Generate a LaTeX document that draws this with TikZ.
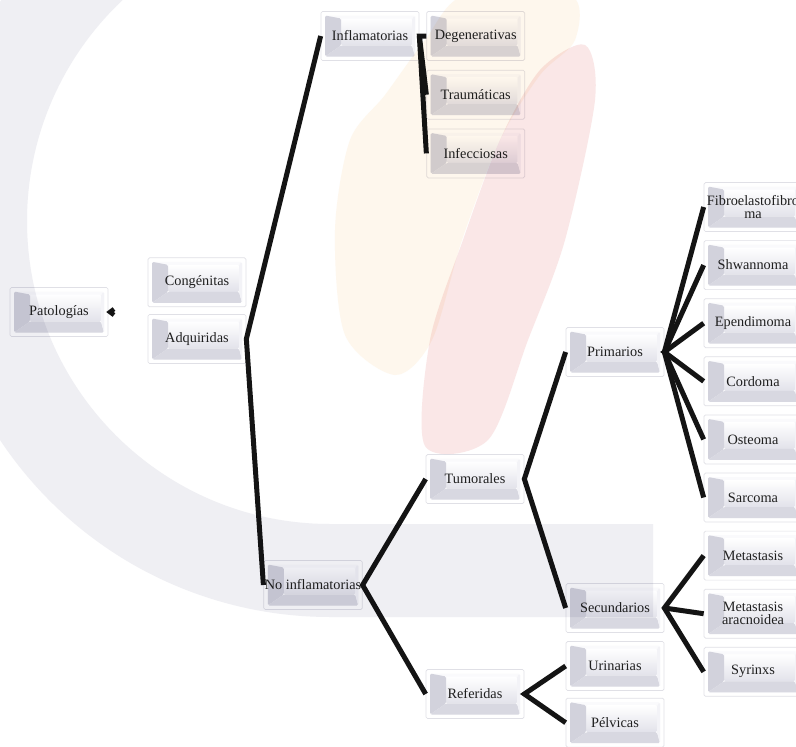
\documentclass[tikz,border=0pt]{standalone}
\usepackage{fontspec}
\setmainfont{Liberation Serif}
\usepackage{xcolor}
\usetikzlibrary{positioning,calc}

\definecolor{boxedge}{RGB}{224,224,230}
\definecolor{facelow}{RGB}{226,226,234}
\definecolor{bevleft}{RGB}{210,210,220}
\definecolor{bevbot}{RGB}{216,216,225}
\definecolor{bevright}{RGB}{243,243,247}
\definecolor{bevtop}{RGB}{250,250,252}
\definecolor{wmgray}{RGB}{239,239,243}
\definecolor{wmorange}{RGB}{254,247,237}
\definecolor{wmpink}{RGB}{250,231,231}

\begin{document}
\begin{tikzpicture}[
    x=1pt, y=-1pt,
    box/.style={draw=boxedge, line width=0.7pt, rounded corners=1.5pt, fill=white,
      minimum width=98pt, minimum height=49pt, inner sep=1pt, align=center,
      text=black!88, font=\fontsize{14.3}{13}\selectfont,
      path picture={
        \path (path picture bounding box.north west) ++(4pt,-4pt) coordinate (bnw);
        \path (path picture bounding box.south east) ++(-4pt,4pt) coordinate (bse);
        \path (bnw |- bse) coordinate (bsw);
        \path (bse |- bnw) coordinate (bne);
        \fill[bevtop] (bnw) rectangle (bse);
        \shade[top color=white, bottom color=facelow] ($(bnw)+(16pt,-3pt)$) rectangle ($(bse)+(-3pt,11pt)$);
        \fill[bevleft] (bnw) -- ($(bnw)+(16pt,-3pt)$) -- ($(bsw)+(16pt,11pt)$) -- (bsw) -- cycle;
        \fill[bevbot] (bsw) -- ($(bsw)+(16pt,11pt)$) -- ($(bse)+(-3pt,11pt)$) -- (bse) -- cycle;
        \fill[bevright] (bse) -- ($(bse)+(-3pt,11pt)$) -- ($(bne)+(-3pt,-3pt)$) -- (bne) -- cycle;
      }},
    conn/.style={line width=5pt, black!92}
]
\fill[white] (0,0) rectangle (796,747);
\useasboundingbox (0,0) rectangle (796,747);

% first levels
\node[box] (pat) at (59,312) {Patologías};
\node[box] (adq) at (197,339) {Adquiridas};
\node[box, above=7pt of adq] (con) {Congénitas};

\node[box] (inf) at (370,36) {Inflamatorias};
\node[box, right=7pt of inf] (deg) {Degenerativas};
\node[box, below=9pt of deg] (tra) {Traumáticas};
\node[box, below=9pt of tra] (infc) {Infecciosas};

\node[box] (noinf) at (313,585) {No inflamatorias};
\node[box] (tum) at (475,479) {Tumorales};
\node[box] (ref) at (475,694) {Referidas};

\node[box] (pri) at (615,352) {Primarios};
\node[box] (sec) at (615,608) {Secundarios};
\node[box] (uri) at (615,666) {Urinarias};
\node[box, below=7pt of uri] (pel) {Pélvicas};

% right column
\node[box] (fib) at (753,207) {Fibroelastofibro\\ma};
\node[box, below=8.4pt of fib] (shw) {Shwannoma};
\node[box, below=8.4pt of shw] (epe) {Ependimoma};
\node[box, below=8.4pt of epe] (cor) {Cordoma};
\node[box, below=8.4pt of cor] (ost) {Osteoma};
\node[box, below=8.4pt of ost] (sar) {Sarcoma};
\node[box, below=8.4pt of sar] (met) {Metastasis};
\node[box, below=8.4pt of met] (mar) {Metastasis\\aracnoidea};
\node[box, below=8.4pt of mar] (syr) {Syrinxs};

% connectors
\coordinate (patj) at (110,312);
\coordinate (patu) at (114,309);
\coordinate (patd) at (114,315);
\draw[conn, line width=4.5pt] (patu) -- (patj) -- (patd);

\draw[conn] (inf.west) -- (adq.east) -- (noinf.west);
\draw[conn] (deg.west) -- (inf.east) -- (infc.west);
\draw[conn] (inf.east) -- (tra.west);
\draw[conn] (tum.west) -- (noinf.east) -- (ref.west);
\draw[conn] (pri.west) -- (tum.east) -- (sec.west);
\draw[conn] (uri.west) -- (ref.east) -- (pel.west);
\draw[conn] (fib.west) -- (pri.east) -- (sar.west);
\draw[conn] (shw.west) -- (pri.east) -- (ost.west);
\draw[conn] (epe.west) -- (pri.east) -- (cor.west);
\draw[conn] (met.west) -- (sec.east) -- (syr.west);
\draw[conn] (sec.east) -- (mar.west);

% watermark
\begin{scope}[blend mode=multiply]
\fill[wmgray] (330,221) ++(230:396) arc[start angle=230, end angle=90, radius=396]
  -- (653,617) -- (653,524) -- (330,524) arc[start angle=90, end angle=230, radius=303] -- cycle;
\fill[wmorange] plot[smooth cycle] coordinates {(345,335) (335,230) (350,140) (385,95) (425,40) (465,-5) (570,-5) (575,40) (540,75) (500,140) (462,240) (432,340) (395,375)};
\fill[wmpink] plot[smooth cycle] coordinates {(540,70) (585,45) (595,100) (565,240) (528,340) (488,440) (425,446) (430,340) (463,240) (500,140)};
\end{scope}
\end{tikzpicture}
\end{document}
